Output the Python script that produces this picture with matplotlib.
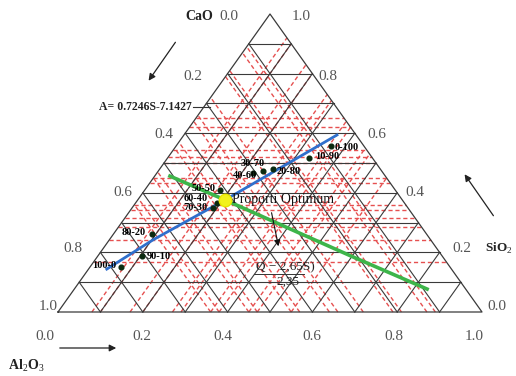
"""Ternary diagram CaO - SiO2 - Al2O3 with optimum proportion."""
import numpy as np
import matplotlib
matplotlib.use('Agg')
import matplotlib.pyplot as plt

serif = 'Liberation Serif'
plt.rcParams['mathtext.fontset'] = 'custom'
plt.rcParams['mathtext.rm'] = serif
plt.rcParams['mathtext.bf'] = serif + ':bold'

# --- data (ternary fractions: a = Al2O3 base intercept, s = SiO2 height) ---
mix_labels = ['100-0', '90-10', '80-20', '70-30', '60-40', '50-50',
              '40-60', '30-70', '20-80', '10-90', '0-100']
mix_al = [0.073, 0.104, 0.091, 0.191, 0.192, 0.177, 0.227, 0.247, 0.267, 0.334, 0.365]
mix_si = [0.151, 0.188, 0.262, 0.349, 0.366, 0.409, 0.466, 0.473, 0.480, 0.517, 0.557]

opt_al, opt_si = 0.207, 0.376

blue_al = [0.043, 0.103, 0.206, 0.361]
blue_si = [0.144, 0.242, 0.376, 0.594]

green_al = [0.036, 0.206, 0.603, 0.832]
green_si = [0.456, 0.376, 0.185, 0.077]

# red dashed construction lines
red_si = [0.168, 0.242, 0.285, 0.315, 0.342, 0.359, 0.433, 0.450, 0.500, 0.520, 0.544,
          0.62, 0.65]
red_al = [0.08, 0.10, 0.17, 0.20, 0.27, 0.29, 0.36, 0.38, 0.45, 0.47, 0.55]
red_bx = [0.36, 0.38, 0.45, 0.47, 0.55, 0.57, 0.64, 0.66, 0.72, 0.79, 0.81, 0.87, 0.89]

ticks = [0.0, 0.2, 0.4, 0.6, 0.8, 1.0]
grid = np.arange(1, 10) / 10

# --- layout helpers (pixel frame of the 516x376 picture) ---
X0, X1, YB, YT = 58, 482, 312, 14


def px(x, y):
    return (x - X0) / (X1 - X0), (YB - y) / (YB - YT)


def tern(a, s):
    a, s = np.asarray(a), np.asarray(s)
    return a + s / 2, s


fig = plt.figure(figsize=(5.16, 3.76), dpi=100)
ax = fig.add_axes([0, 0, 1, 1])
ax.set_xlim(px(0, 0)[0], px(516, 0)[0])
ax.set_ylim(px(0, 376)[1], px(0, 0)[1])
ax.axis('off')

gridc = '#3a3a3a'
redc = '#e65050'

# red dashed lines
dash = dict(color=redc, lw=1.0, ls=(0, (3, 2)), zorder=1)
for s in red_si:
    ax.plot([s / 2, 1 - s / 2], [s, s], **dash)
for a in red_al:
    ax.plot([a, a + (1 - a) / 2], [0, 1 - a], **dash)
for b in red_bx:
    ax.plot([b, b / 2], [0, b], **dash)

# black grid
for g in grid:
    ax.plot([g / 2, 1 - g / 2], [g, g], color=gridc, lw=0.8, zorder=2)
    ax.plot([g, g + (1 - g) / 2], [0, 1 - g], color=gridc, lw=0.8, zorder=2)
    ax.plot([g, g / 2], [0, g], color=gridc, lw=0.8, zorder=2)
ax.plot([0, 1, 0.5, 0], [0, 0, 1, 0], color=gridc, lw=0.9, zorder=2)

# lines and points
bx, by = tern(blue_al, blue_si)
ax.plot(bx, by, color='#2f6fcc', lw=2, zorder=3)
gx, gy = tern(green_al, green_si)
ax.plot(gx, gy, color='#3db54a', lw=2.6, zorder=3)
mx, my = tern(mix_al, mix_si)
ax.plot(mx, my, 'o', color='#0b2a10', ms=3.4, zorder=4)
ox, oy = tern(opt_al, opt_si)
ax.plot(ox, oy, 'o', color='#f2f21c', ms=9, mec='#e6e600', zorder=5)

# point labels (pixel offsets, alignment)
lab_off = [(-5, 2, 'right'), (5, -1, 'left'), (-6, 1, 'right'), (-5, 0, 'right'),
           (-9, 4, 'right'), (-4, 2, 'right'), (4, -2, 'right'), (2, 8, 'right'),
           (4, -3, 'left'), (6, 1, 'left'), (4, -1, 'left')]
sx, sy = (X1 - X0), (YB - YT)
for lbl, x, y, (dx, dy, ha) in zip(mix_labels, mx, my, lab_off):
    ax.text(x + dx / sx, y + dy / sy, lbl, fontsize=7.5, family=serif, ha=ha,
            va='center', color='#000', weight='bold', zorder=6)

ax.text(*px(232, 200), 'Proporti Optimum', fontsize=10, family=serif,
        va='center', ha='left', color='#111', zorder=6)

# equation
ax.text(*px(256, 267), 'Q \u2212 2,65S)', fontsize=9.5, family=serif, va='center',
        ha='left', color='#222', zorder=6)
ax.plot(*zip(px(254, 274), px(304, 274)), color='#333', lw=0.7, zorder=6)
ax.text(*px(276, 282), '2,35', fontsize=9.5, family=serif, va='center',
        ha='left', color='#222', zorder=6)
ax.annotate('', xy=px(279, 249), xytext=px(271, 210),
            arrowprops=dict(arrowstyle='-|>', color='#111', lw=0.8,
                            mutation_scale=9), zorder=6)

# A= relation
ax.text(*px(192, 107), 'A= 0.7246S-7.1427', fontsize=8.5, family=serif,
        weight='bold', ha='right', va='center', color='#222')
ax.plot(*zip(px(193, 107), px(210, 107)), color='#333', lw=0.8)

# tick labels
tk = dict(fontsize=11, family=serif, color='#555', va='center')
left_px = [(238, 16), (202, 76), (173, 135), (132, 193), (82, 249), (58, 306)]
for t, (x, y) in zip(ticks, left_px):
    ax.text(*px(x, y), f'{t:.1f}', ha='right', **tk)
right_px = [(487, 306), (452, 249), (405, 193), (367, 135), (318, 77), (292, 17)]
for t, (x, y) in zip(ticks, right_px):
    ax.text(*px(x, y), f'{t:.1f}', ha='left', **tk)
bottom_px = [45, 142, 223, 312, 394, 474]
for t, x in zip(ticks, bottom_px):
    ax.text(*px(x, 337), f'{t:.1f}', ha='center', **tk)

# component names and arrows
ax.text(*px(199, 16), 'CaO', fontsize=10, family=serif, weight='bold',
        ha='center', va='center', color='#222')
ax.text(*px(485, 248), 'SiO$_2$', fontsize=9.5, family=serif, weight='bold',
        ha='left', va='center', color='#222')
ax.text(*px(8, 366), 'Al$_2$O$_3$', fontsize=10, family=serif, weight='bold',
        ha='left', va='center', color='#222')

arr = dict(arrowstyle='-|>', color='#222', lw=0.9, mutation_scale=10)
ax.annotate('', xy=px(147, 83), xytext=px(177, 40), arrowprops=arr)
ax.annotate('', xy=px(463, 172), xytext=px(495, 218), arrowprops=arr)
ax.annotate('', xy=px(119, 348), xytext=px(57, 348), arrowprops=arr)

fig.savefig('out.png', dpi=100)
